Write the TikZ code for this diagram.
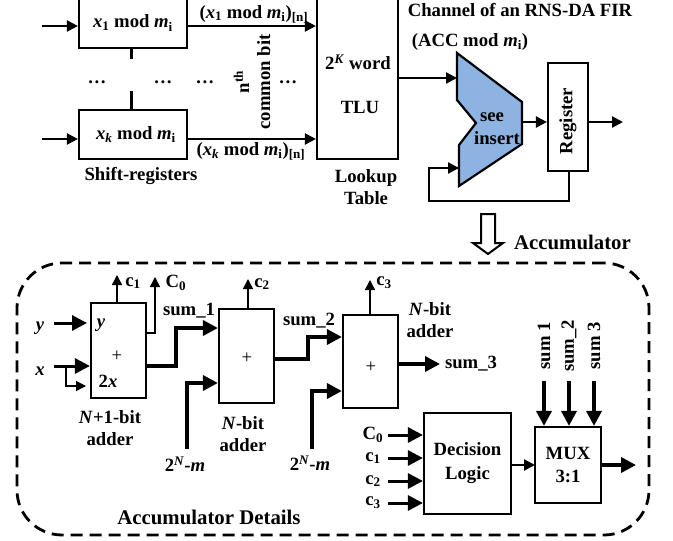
\documentclass[tikz,border=0pt]{standalone}
\usepackage{fontspec}
\setmainfont{Liberation Serif}
\usetikzlibrary{arrows.meta}
\definecolor{accblue}{HTML}{8DB3E2}
\tikzset{
    lbl/.style={font=\fontsize{18.7}{21}\selectfont\bfseries, inner sep=0pt, align=center},
    biglbl/.style={lbl, font=\fontsize{20.8}{22}\selectfont\bfseries},
    box/.style={draw, line width=2.2pt, minimum width=#1, inner sep=0pt, lbl},
    sig/.style={line width=2.2pt, -{Triangle[length=11pt,width=11pt]}},
    thinsig/.style={line width=1.5pt, -{Triangle[length=10pt,width=10pt]}},
    bus/.style={line width=3.6pt, -{Triangle[length=15pt,width=15pt]}},
    plainline/.style={line width=2.2pt},
}
\begin{document}
\begin{tikzpicture}[x=1pt,y=-1pt]
    \useasboundingbox (0,0) rectangle (673,541);

    % Shift-registers
    \node[box=108pt, minimum height=50pt] (reg1) at (133,23) {\textit{x}\textsubscript{1} mod \textit{m}\textsubscript{i}};
    \node[box=108pt, minimum height=49pt] (regk) at (133,134.5) {\hspace{6pt}\textit{x\textsubscript{k}} mod \textit{m}\textsubscript{i}};
    \node[lbl] (shiftlbl) at (141,176) {Shift-registers};
    \coordinate (in1) at (42,26);
    \coordinate (ink) at (42,139);
    \draw[sig] (in1) -- (in1 -| reg1.west);
    \draw[sig] (ink) -- (ink -| regk.west);
    \coordinate (gap1) at (131,59);
    \coordinate (gap2) at (131,91);
    \draw[plainline, line width=3pt] (reg1.south -| gap1) -- (gap1);
    \draw[plainline, line width=3pt] (gap2) -- (regk.north -| gap2);
    \foreach \dotx/\name in {97/a,163/b,205/c,288/d} {
        \node[lbl] (dots\name) at (\dotx,82) {\dots};
    }

    % Lookup table
    \node[box=81pt, minimum height=162pt] (tlu) at (357.5,78) {};
    \node[lbl] (word) at (358,62) {2\textsuperscript{\textit{K}} word};
    \node[lbl] (tlulbl) at (360,107) {TLU};
    \node[lbl] (lookup) at (366,187) {Lookup\\[1pt]Table};
    \draw[sig] (in1 -| reg1.east) -- (in1 -| tlu.west);
    \draw[sig] (ink -| regk.east) -- (ink -| tlu.west);
    \node[lbl] (bit1) at (254,14) {(\textit{x}\textsubscript{1} mod \textit{m}\textsubscript{i})\textsubscript{[n]}};
    \node[lbl] (bitk) at (251,151) {(\textit{x\textsubscript{k}} mod \textit{m}\textsubscript{i})\textsubscript{[n]}};
    \node[lbl, rotate=90] (nth) at (252,82) {n\textsuperscript{th}\\common bit};

    % Channel with the accumulator and register
    \node[lbl] (chan) at (520,10) {Channel of an RNS-DA FIR};
    \node[lbl] (acclbl) at (470,42) {(ACC mod \textit{m}\textsubscript{i})};
    \coordinate (acca) at (457,53);
    \coordinate (accb) at (522,102);
    \coordinate (accc) at (522,144);
    \coordinate (accd) at (459,186);
    \coordinate (acce) at (459,145);
    \coordinate (accf) at (476,123);
    \coordinate (accg) at (457,100);
    \draw[fill=accblue, line width=2.2pt] (acca) -- (accb) -- (accc) -- (accd) -- (acce) -- (accf) -- (accg) -- cycle;
    \node[lbl] (see) at (492,117) {see};
    \node[lbl] (insert) at (497,138) {insert};
    \node[box=40pt, minimum height=108pt] (reg) at (568,117) {};
    \node[lbl, rotate=90] (reglbl) at (568,121) {Register};
    \coordinate (accin) at (457,78);
    \coordinate (regout) at (623,122);
    \coordinate (fbin) at (459,168);
    \coordinate (fba) at (569,201);
    \coordinate (fbb) at (429,201);
    \draw[sig] (accin -| tlu.east) -- (accin);
    \draw[sig] (regout -| accb) -- (regout -| reg.west);
    \draw[sig] (regout -| reg.east) -- (regout);
    \draw[plainline] (reg.south -| fba) -- (fba) -- (fbb) -- (fbb |- fbin) -- (fbin) ;
    \draw[sig] (fbb |- fbin) -- (fbin);

    % Hollow arrow
    \coordinate (hollow) at (488,214);
    \draw[line width=2pt, fill=white, line join=miter] (hollow) ++(-7,0) -- ++(0,29) -- ++(-8,0) -- (488,254) -- (503,243) -- (495,243) -- (495,214) -- cycle;
    \node[biglbl] (acctitle) at (572.5,242) {Accumulator};

    % Accumulator details
    \node[draw, line width=2.8pt, dash pattern=on 12pt off 7pt, rounded corners=45pt, minimum width=632pt, minimum height=272pt] (details) at (333,399) {};
    \node[biglbl] (detlbl) at (209,517) {Accumulator Details};

    % First adder
    \node[box=55pt, minimum height=95pt] (add1) at (118.5,350.5) {};
    \node[lbl] (plus1) at (117,356) {\mdseries +};
    \node[lbl] (yin) at (101,325) {\textit{y}};
    \node[lbl] (xin) at (108,381) {2\textit{x}};
    \node[lbl] (ylbl) at (40,328) {\textit{y}};
    \node[lbl] (xlbl) at (40,371) {\textit{x}};
    \node[lbl] (add1lbl) at (110,428) {\textit{N}+1-bit\\[1pt]adder};
    \coordinate (yend) at (54,323);
    \coordinate (xend) at (54,366);
    \coordinate (xsplit) at (66,366);
    \coordinate (xlow) at (66,386);
    \coordinate (xlowend) at (86,386);
    \draw[bus, line width=3pt] (yend) -- (87,323);
    \draw[bus, line width=3pt] (xend) -- (xend -| add1.west);
    \draw[thinsig] (xsplit) -- (xlow) -- (xlowend);
    \coordinate (c1end) at (117,275);
    \coordinate (c0end) at (155,277);
    \draw[thinsig] (c1end |- add1.north) -- (c1end);
    \draw[thinsig] (add1.east |- 0,333) -- (155,333) -- (c0end);
    \node[lbl] (c1lbl) at (133,283) {c\textsubscript{1}};
    \node[lbl] (c0lbl) at (176,283) {C\textsubscript{0}};

    % Second adder
    \node[box=55pt, minimum height=94pt] (add2) at (246.5,356) {};
    \node[lbl] (plus2) at (247,358) {\mdseries +};
    \node[lbl] (add2lbl) at (243,434) {\textit{N}-bit\\[1pt]adder};
    \node[lbl] (sum1) at (189,311) {sum\_1};
    \coordinate (s1a) at (176,366);
    \coordinate (s1b) at (176,328);
    \coordinate (m2a) at (187,449);
    \coordinate (m2b) at (187,383);
    \draw[bus] (add1.east |- s1a) -- (s1a) -- (s1b) -- (s1b -| add2.west);
    \draw[bus] (m2a) -- (m2b) -- (m2b -| add2.west);
    \node[lbl] (mlbl2) at (185,464) {2\textsuperscript{\textit{N}}-\textit{m}};
    \coordinate (c2end) at (248,279);
    \draw[thinsig] (c2end |- add2.north) -- (c2end);
    \node[lbl] (c2lbl) at (262,284) {c\textsubscript{2}};

    % Third adder
    \node[box=55pt, minimum height=93pt] (add3) at (370.5,361.5) {};
    \node[lbl] (plus3) at (371,367) {\mdseries +};
    \node[lbl] (add3lbl) at (430,320) {\textit{N}-bit\hspace{6pt}\\[1pt]adder};
    \node[lbl] (sum2) at (309,321) {sum\_2};
    \coordinate (s2a) at (308,359);
    \coordinate (s2b) at (308,337);
    \coordinate (m3a) at (312,449);
    \coordinate (m3b) at (312,391);
    \draw[bus] (add2.east |- s2a) -- (s2a) -- (s2b) -- (s2b -| add3.west);
    \draw[bus] (m3a) -- (m3b) -- (m3b -| add3.west);
    \node[lbl] (mlbl3) at (310,463) {2\textsuperscript{\textit{N}}-\textit{m}};
    \coordinate (c3end) at (370,280);
    \draw[thinsig] (c3end |- add3.north) -- (c3end);
    \node[lbl] (c3lbl) at (384,283) {c\textsubscript{3}};
    \coordinate (s3end) at (440,364);
    \draw[bus] (s3end -| add3.east) -- (s3end);
    \node[lbl] (sum3) at (471,364) {sum\_3};

    % Decision logic and MUX
    \node[box=87pt, minimum height=101pt] (logic) at (467.5,463.5) {Decision\\[3pt]Logic};
    \node[box=66pt, minimum height=76pt] (mux) at (568,465) {MUX\\[2pt]3:1};
    \foreach \iny/\name/\txt in {435/czero/C\textsubscript{0},458/cone/c\textsubscript{1},481/ctwo/c\textsubscript{2},503/cthree/c\textsubscript{3}} {
        \coordinate (\name) at (388,\iny);
        \draw[bus, line width=3pt] (\name) -- (\name -| logic.west);
        \node[lbl] (\name lbl) at (373,\iny) {\txt};
    }
    \coordinate (muxin) at (535,465);
    \coordinate (muxout) at (636,465);
    \draw[sig] (logic.east |- muxin) -- (muxin);
    \draw[bus] (mux.east |- muxout) -- (muxout);
    \foreach \sumx/\name/\txt in {544/a/sum 1,569/b/sum\_2,594/c/sum 3} {
        \coordinate (top\name) at (\sumx,381);
        \draw[bus] (top\name) -- (top\name |- mux.north);
        \node[lbl, rotate=90] (sumlbl\name) at (\sumx,346) {\txt};
    }
\end{tikzpicture}
\end{document}
